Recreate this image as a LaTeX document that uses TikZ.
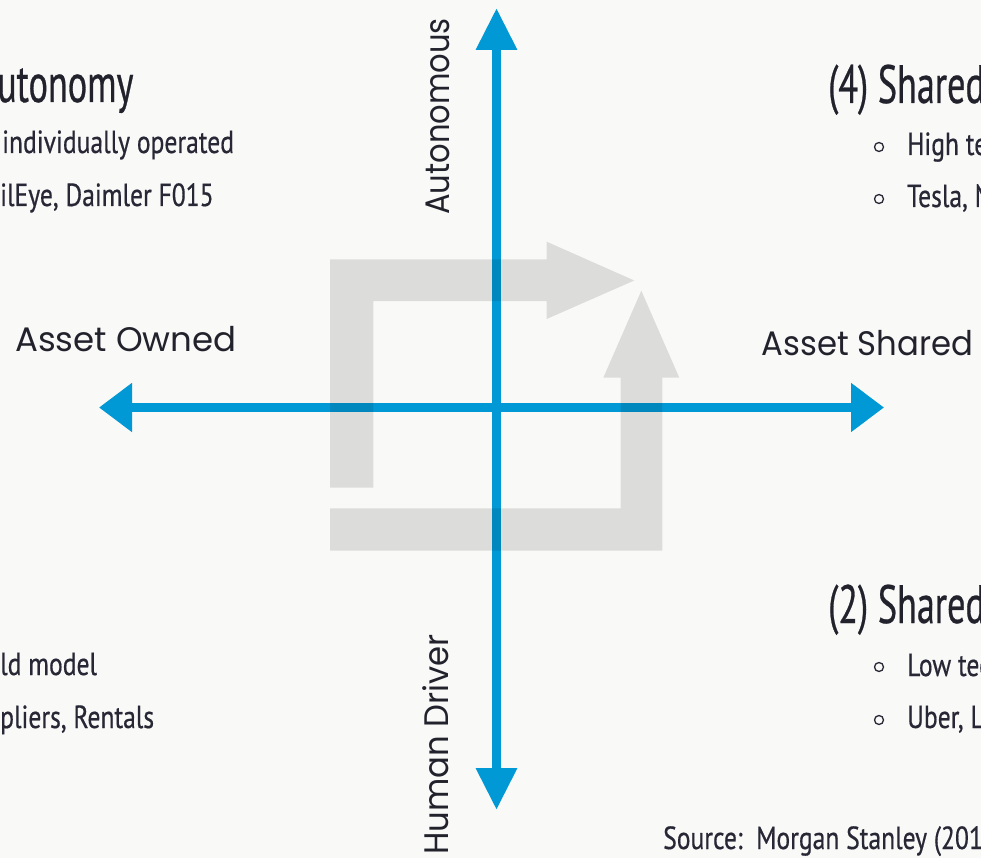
\documentclass[tikz,border=0pt]{standalone}
\usepackage{fontspec}
\setmainfont{PT Sans}
\newfontfamily\condfont[FakeStretch=0.8,FakeBold=0.5]{PT Sans}
\newfontfamily\titlefont[FakeStretch=0.67,FakeBold=0.5]{PT Sans}
\newfontfamily\geofont{Poppins}
\usetikzlibrary{arrows.meta}
\definecolor{bg}{HTML}{F9F9F8}
\definecolor{axisblue}{HTML}{0099D6}
\definecolor{ink}{HTML}{22222C}
\definecolor{bodyink}{HTML}{272735}
\begin{document}
\begin{tikzpicture}[x=1pt,y=-1pt,
  haxis/.style={draw=axisblue, line width=9.5pt,
    {Triangle[length=33pt,width=47pt]}-{Triangle[length=33pt,width=47pt]}},
  vaxis/.style={draw=axisblue, line width=9.5pt,
    {Triangle[length=42pt,width=39pt]}-{Triangle[length=42pt,width=39pt]}},
  ghost/.style={fill=black, fill opacity=0.115},
  title/.style={anchor=base west, inner sep=0pt, text=ink, font=\titlefont\fontsize{54}{60}\selectfont},
  body/.style={anchor=base west, inner sep=0pt, text=bodyink, font=\condfont\fontsize{32}{38}\selectfont},
  axlabel/.style={anchor=base west, inner sep=0pt, text=ink, font=\geofont\fontsize{34}{40}\selectfont},
  bullet/.style={circle, draw=bodyink, line width=1.3pt, minimum size=9pt, inner sep=0pt}
]
\useasboundingbox (0,0) rectangle (981,858);
\fill[bg] (0,0) rectangle (981,858);
\clip (0,0) rectangle (981,858);

% axes
\coordinate (Ltip) at (99,407.5);
\coordinate (Rtip) at (884,407.5);
\coordinate (Ttip) at (496.5,8);
\coordinate (Btip) at (496.5,810);
\draw[haxis] (Ltip) -- (Rtip);
\draw[vaxis] (Ttip) -- (Btip);

% grey cycle arrows
\fill[ghost] (330,487.7) -- (330,259.3) -- (546.7,259.3) -- (546.7,241.7) -- (634.3,280.5)
  -- (546.7,319) -- (546.7,301) -- (373.3,301) -- (373.3,487.7) -- cycle;
\fill[ghost] (330,508.3) -- (620.7,508.3) -- (620.7,377.7) -- (603.3,377.7) -- (641.3,290.7)
  -- (679.3,377.7) -- (662.3,377.7) -- (662.3,550.7) -- (330,550.7) -- cycle;

% axis labels
\node[axlabel] (owned) at (15,351.7) {Asset Owned};
\node[axlabel] (shared) at (761.7,355) {\scalebox{0.95}[1]{Asset Shared}};
\node[axlabel, rotate=90] (auto) at (449,215) {\scalebox{0.9}[1]{Autonomous}};
\node[axlabel, rotate=90] (human) at (448,855) {\scalebox{0.95}[1]{Human Driver}};

% top-left quadrant
\node[title] (tl) at (-3,102) {utonomy};
\node[body] (tl1) at (2,153) {individually operated};
\node[body] (tl2) at (0,206) {ilEye, Daimler F015};

% top-right quadrant
\node[title] (tr) at (828,103) {(4) Shared};
\node[bullet] (trb1) at (879,147) {};
\node[body] (tr1) at (907,155) {High te};
\node[bullet] (trb2) at (879,199) {};
\node[body] (tr2) at (907,207) {Tesla, N};

% bottom-right quadrant
\node[title] (br) at (828,623) {(2) Shared};
\node[bullet] (brb1) at (879,667) {};
\node[body] (br1) at (907,676) {Low tec};
\node[bullet] (brb2) at (879,720) {};
\node[body] (br2) at (907,728) {Uber, L};

% bottom-left quadrant
\node[body] (bl1) at (0,675) {ld model};
\node[body] (bl2) at (0,728) {pliers, Rentals};

% source
\node[body] (src) at (663,849) {Source:\ \ Morgan Stanley (201};
\end{tikzpicture}
\end{document}
